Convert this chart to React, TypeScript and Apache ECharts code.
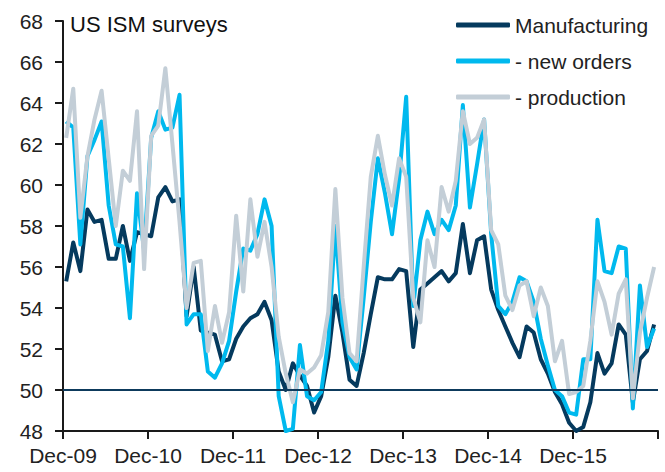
import { useEffect, useRef } from 'react';
import * as echarts from 'echarts';

// Monthly ISM readings, Dec-09 .. Nov-16 (84 months)
const manufacturing = [
  55.3, 57.2, 55.8, 58.8, 58.2, 58.3, 56.4, 56.4, 58.0, 56.3, 57.7, 57.6,
  57.5, 59.4, 59.9, 59.2, 59.3, 53.6, 56.0, 52.9, 52.8, 52.7, 51.4, 51.5,
  52.5, 53.1, 53.5, 53.7, 54.3, 53.4, 50.9, 50.0, 51.3, 50.7, 50.2, 48.9,
  49.7, 51.6, 54.6, 52.8, 50.5, 50.2, 51.8, 53.7, 55.5, 55.4, 55.4, 55.9,
  55.8, 52.1, 54.9, 55.2, 55.5, 55.8, 55.3, 55.7, 58.1, 55.7, 57.3, 57.5,
  54.9, 53.9, 53.1, 52.3, 51.6, 53.1, 52.8, 51.5, 50.8, 49.9, 49.3, 48.4,
  48.0, 48.2, 49.4, 51.8, 50.8, 51.3, 53.2, 52.7, 49.4, 51.5, 51.9, 53.2,
];
const newOrders = [
  63.1, 62.8, 57.1, 61.4, 62.2, 63.1, 59.0, 57.1, 57.0, 53.5, 59.6, 56.8,
  62.3, 63.6, 62.7, 62.8, 64.4, 53.2, 53.7, 53.7, 50.9, 50.6, 51.3, 52.4,
  54.8, 56.9, 56.8, 57.6, 59.3, 58.0, 49.7, 48.0, 48.1, 52.2, 49.7, 49.5,
  49.9, 52.4, 58.0, 53.3, 51.6, 51.0, 54.5, 58.2, 61.3, 59.6, 57.6, 60.3,
  64.3, 54.1, 57.3, 58.7, 57.6, 58.3, 57.8, 59.0, 63.9, 58.9, 61.0, 63.2,
  57.6, 54.1, 53.7, 54.3, 55.5, 55.3, 54.3, 52.5, 51.2, 50.0, 49.7, 48.9,
  48.8, 51.5, 51.5, 58.3, 55.8, 55.7, 57.0, 56.9, 49.1, 55.1, 52.1, 53.0,
];
const production = [
  62.3, 64.7, 58.4, 61.4, 63.2, 64.6, 61.3, 58.0, 60.7, 60.2, 63.6, 55.9,
  62.4, 62.9, 65.7, 62.0, 58.2, 54.0, 56.2, 56.3, 51.9, 54.1, 52.3, 53.8,
  58.5, 54.8, 59.3, 56.5, 58.2, 56.0, 52.6, 50.8, 49.4, 51.0, 50.8, 51.1,
  51.7, 53.8, 59.8, 54.5, 51.8, 51.4, 56.0, 60.4, 62.4, 60.5, 59.0, 61.3,
  60.4, 54.5, 53.3, 57.3, 56.0, 59.9, 58.7, 60.2, 63.6, 62.0, 62.3, 63.2,
  57.8, 57.1, 54.6, 53.9, 55.1, 55.3, 53.6, 55.0, 54.1, 51.4, 52.4, 49.8,
  49.9, 50.2, 52.4, 55.3, 54.3, 52.7, 54.7, 55.4, 49.6, 52.8, 54.5, 56.0,
];
const seriesNames = ['Manufacturing', '- new orders', '- production'];
const seriesColors = ['#053a5e', '#00b9ee', '#c3ced7'];
const title = 'US ISM surveys';
const firstYear = 9; // Dec-09
const monthsOnAxis = 84;
const yMin = 48;
const yMax = 68;
const yStep = 2;
const threshold = 50;

const FONT = '"Liberation Sans", Arial, sans-serif';
const MONTH_POS = 0.45; // points sit mid-month on the date axis

function toPoints(vals: number[]) {
  return vals.map((v, i) => [i + MONTH_POS, v]);
}

export default function App() {
  const ref = useRef<HTMLDivElement>(null);
  useEffect(() => {
    if (!ref.current) return;
    const chart = echarts.init(ref.current, null, { renderer: 'svg' });
    const all = [manufacturing, newOrders, production];
    chart.setOption({
      animation: false,
      title: {
        text: title,
        left: 70,
        top: 13,
        padding: 0,
        textStyle: { fontFamily: FONT, fontSize: 22, fontWeight: 'normal', color: '#111' },
      },
      legend: {
        data: seriesNames,
        orient: 'vertical',
        left: 456,
        top: 13,
        padding: 0,
        icon: 'roundRect',
        itemWidth: 54,
        itemHeight: 5,
        itemGap: 12,
        selectedMode: false,
        textStyle: { fontFamily: FONT, fontSize: 21, color: '#222', lineHeight: 24 },
      },
      grid: { left: 63, right: 7, top: 21, bottom: 41, containLabel: false },
      xAxis: {
        type: 'value',
        min: 0,
        max: monthsOnAxis,
        interval: 12,
        axisLine: { show: true, lineStyle: { color: '#1a1a1a', width: 2 } },
        axisTick: { show: true, length: 8, lineStyle: { color: '#1a1a1a', width: 2 } },
        splitLine: { show: false },
        axisLabel: {
          fontFamily: FONT,
          fontSize: 21,
          color: '#222',
          margin: 14,
          showMaxLabel: true,
          formatter: (v: number) =>
            v >= monthsOnAxis ? '' : 'Dec-' + String(firstYear + v / 12).padStart(2, '0'),
        },
      },
      yAxis: {
        type: 'value',
        min: yMin,
        max: yMax,
        interval: yStep,
        axisLine: { show: true, lineStyle: { color: '#1a1a1a', width: 2 } },
        axisTick: { show: true, length: 8, lineStyle: { color: '#1a1a1a', width: 2 } },
        splitLine: { show: false },
        axisLabel: { fontFamily: FONT, fontSize: 21, color: '#222', margin: 20 },
      },
      series: all.map((vals, k) => ({
        name: seriesNames[k],
        type: 'line',
        data: toPoints(vals),
        showSymbol: false,
        clip: false,
        color: seriesColors[k],
        lineStyle: { color: seriesColors[k], width: 4, join: 'round' },
        z: 2 + k,
        markLine:
          k === 2
            ? {
                silent: true,
                symbol: ['none', 'none'],
                label: { show: false },
                lineStyle: { color: '#0d3a5c', width: 2, type: 'solid' },
                data: [{ yAxis: threshold }],
              }
            : undefined,
      })),
    });
    return () => chart.dispose();
  }, []);
  return (
    <div
      ref={ref}
      style={{ position: 'fixed', left: 0, top: 0, width: 665, height: 472, background: '#fff' }}
    />
  );
}
